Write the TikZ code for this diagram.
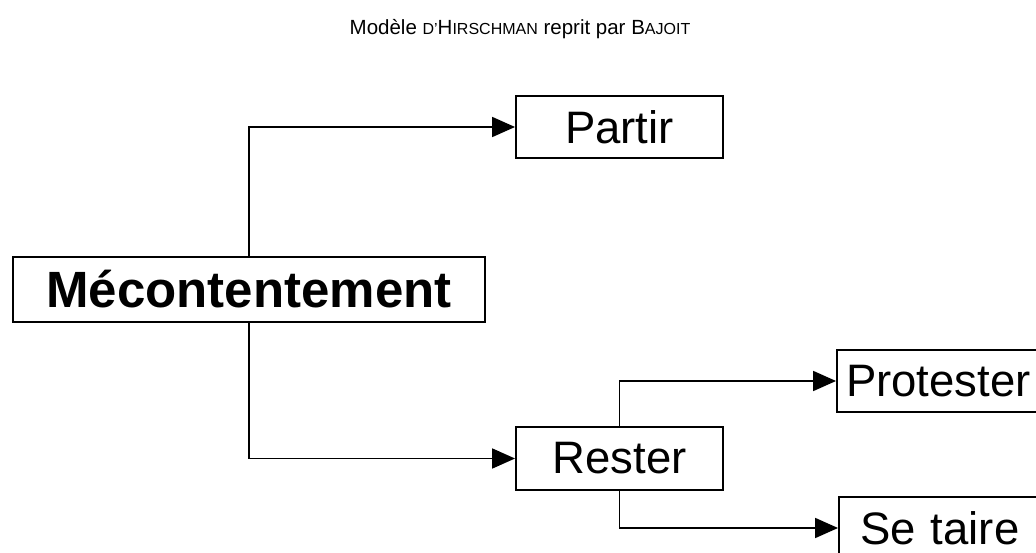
\documentclass[tikz,border=0pt]{standalone}
\usepackage{fontspec}
\setmainfont{Liberation Sans}
\usetikzlibrary{arrows.meta}
\newcommand{\smc}[1]{{\fontsize{16pt}{18pt}\selectfont #1}}
\begin{document}
\begin{tikzpicture}[x=1pt,y=-1pt,
  boxnode/.style={draw,line width=1.9pt,inner sep=0pt,align=center,fill=white},
  conn/.style={line width=1.8pt,-{Triangle[length=23pt,width=20pt]}}]
\useasboundingbox (0,0) rectangle (1036,553);
\clip (0,0) rectangle (1036,553);
\node[anchor=base] (title) at (520,35) {\fontsize{20.5pt}{24pt}\selectfont Modèle \smc{D'}H\smc{IRSCHMAN} reprit par B\smc{AJOIT}};
\node[boxnode,minimum width=472pt,minimum height=65pt,font=\fontsize{51pt}{58pt}\selectfont\bfseries] (mec) at (249,289.5) {Mécontentement};
\node[boxnode,minimum width=207pt,minimum height=62pt,font=\fontsize{45.5pt}{52pt}\selectfont] (partir) at (619.5,127) {Partir};
\node[boxnode,minimum width=207pt,minimum height=63pt,font=\fontsize{45.5pt}{52pt}\selectfont] (rester) at (619.5,458.5) {Rester};
\node[boxnode,minimum width=214pt,minimum height=62pt,font=\fontsize{45.5pt}{52pt}\selectfont,text width=196pt,align=left] (prot) at (944,381) {Protester};
\node[boxnode,minimum width=214pt,minimum height=62pt,font=\fontsize{45.5pt}{52pt}\selectfont,text width=172pt,align=left] (tair) at (946,528) {Se taire};
\draw[conn] (mec.north) |- (partir.west);
\draw[conn] (mec.south) |- (rester.west);
\draw[conn] (rester.north) |- (prot.west);
\draw[conn] (rester.south) |- (tair.west);
\end{tikzpicture}
\end{document}
